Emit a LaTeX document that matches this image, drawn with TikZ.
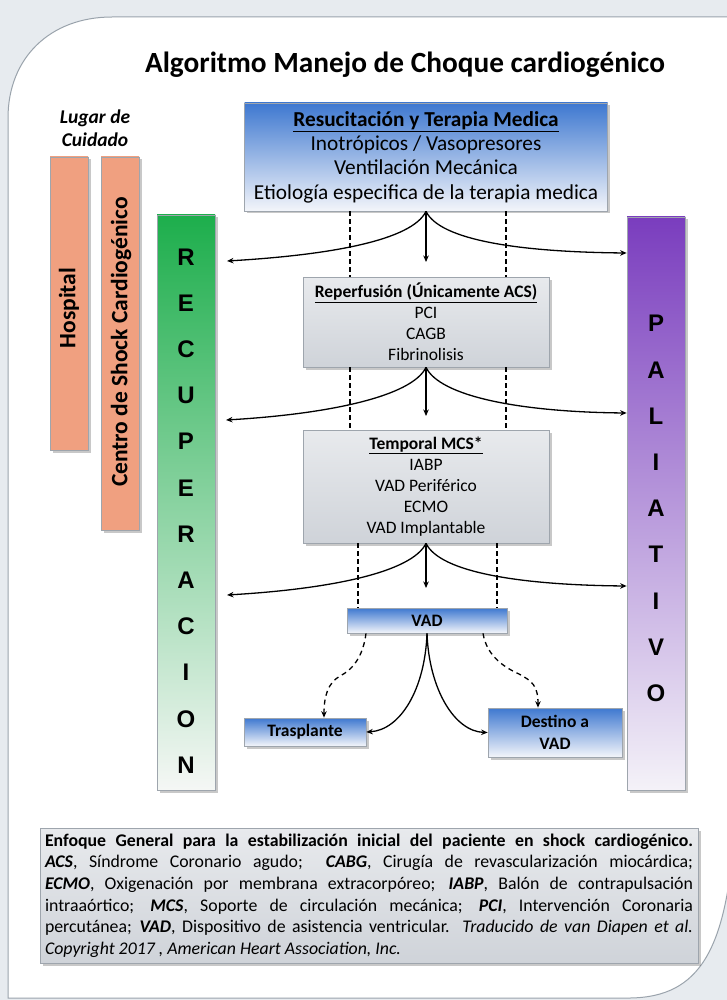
\documentclass[tikz,border=0pt]{standalone}
\usepackage{fontspec}
\setmainfont{Carlito}
\newfontfamily\arialf{Liberation Sans}
\usetikzlibrary{arrows.meta,shadows,calc}
\definecolor{bgc}{HTML}{E7EBEF}
\definecolor{frameC}{HTML}{9AA3AC}
\definecolor{boxline}{HTML}{9EA5AD}
\definecolor{blueT}{HTML}{3E78D0}
\definecolor{blueB}{HTML}{F3F5FA}
\definecolor{grayT}{HTML}{E8EAED}
\definecolor{grayB}{HTML}{CFD3D9}
\definecolor{greenT}{HTML}{1DAE4C}
\definecolor{greenB}{HTML}{F5F7F5}
\definecolor{purpT}{HTML}{7A3DBE}
\definecolor{purpB}{HTML}{F4F2F8}
\definecolor{salmE}{HTML}{F0A080}
\definecolor{salmM}{HTML}{F8BCA2}
\tikzset{
  boxbase/.style={draw=boxline, line width=0.7pt, inner sep=0pt, align=center,
    drop shadow={shadow xshift=2.5pt, shadow yshift=-2.5pt, opacity=0.3, fill=black!70}},
  bluebox/.style={boxbase, top color=blueT, bottom color=blueB},
  graybox/.style={boxbase, top color=grayT, bottom color=grayB},
  greenbar/.style={boxbase, top color=greenT, bottom color=greenB},
  purplebar/.style={boxbase, top color=purpT, bottom color=purpB},
  salmonbar/.style={boxbase, left color=salmE, middle color=salmM, right color=salmE},
  boxtext/.style={font=\fontsize{17.5}{21}\selectfont},
  bartext/.style={font=\arialf\bfseries\fontsize{24}{46.2}\selectfont, align=center, inner sep=0pt},
  sidetext/.style={font=\bfseries\fontsize{23.5}{27}\selectfont, rotate=90, inner sep=0pt},
  arr/.style={line width=1.3pt, -{Stealth[length=6.5pt,width=5.5pt]}},
  dashline/.style={line width=1.1pt, dash pattern=on 4.5pt off 3.5pt},
  dasharr/.style={line width=1.3pt, dash pattern=on 5pt off 4pt, -{Stealth[length=6.5pt,width=5.5pt]}}
}
\begin{document}
\begin{tikzpicture}[x=1pt,y=-1pt]
\useasboundingbox (0,0) rectangle (727,1000);
\fill[bgc] (0,0) rectangle (727,1000);
\path[fill=white, draw=frameC, line width=1pt] (8,998) -- (8,118) .. controls (8,58) and (50,17) .. (112,17) -- (740,17) -- (735,820) .. controls (728,950) and (700,997) .. (630,998) -- cycle;

% title
\node[font=\bfseries\fontsize{29.3}{33}\selectfont, inner sep=0pt] (title) at (405,65) {Algoritmo Manejo de Choque cardiogénico};

% place of care
\node[font=\bfseries\itshape\fontsize{19.5}{23}\selectfont, align=center, inner sep=0pt] (lugar) at (95,128.5) {Lugar de\\Cuidado};
\node[salmonbar, minimum width=38pt, minimum height=293pt] (hosp) at (69,303.5) {};
\node[sidetext] (hosptxt) at (69,308) {Hospital};
\node[salmonbar, minimum width=38pt, minimum height=373pt] (centro) at (120,343.5) {};
\node[sidetext] (centrotxt) at (121,342) {Centro de Shock Cardiogénico};

% side bars
\node[greenbar, minimum width=58pt, minimum height=575pt] (rec) at (186,502.5) {};
\node[bartext] (rectxt) at (186,511) {R\\E\\C\\U\\P\\E\\R\\A\\C\\I\\O\\N};
\node[purplebar, minimum width=58pt, minimum height=573pt] (pal) at (656,503.5) {};
\node[bartext] (paltxt) at (656,508.5) {P\\A\\L\\I\\A\\T\\I\\V\\O};

% main boxes
\node[bluebox, minimum width=363pt, minimum height=108pt, font=\fontsize{21.3}{24.3}\selectfont] (top) at (426,157)
  {\textbf{\underline{Resucitación y Terapia Medica}}\\Inotrópicos / Vasopresores\\Ventilación Mecánica\\Etiología especifica de la terapia medica};
\node[graybox, boxtext, minimum width=246pt, minimum height=90pt] (rep) at (426,322)
  {\textbf{\underline{Reperfusión (Únicamente ACS)}}\\PCI\\CAGB\\Fibrinolisis};
\node[graybox, boxtext, minimum width=246pt, minimum height=113pt] (tmp) at (426,486.5)
  {\textbf{\underline{Temporal MCS*}}\\IABP\\VAD Periférico\\ECMO\\VAD Implantable};
\node[bluebox, boxtext, minimum width=160pt, minimum height=25pt] (vad) at (427,620.5) {\textbf{VAD}};
\node[bluebox, boxtext, minimum width=122pt, minimum height=28pt] (tras) at (305,732) {\textbf{Trasplante}};
\node[bluebox, font=\bfseries\fontsize{17.5}{22}\selectfont, minimum width=134pt, minimum height=49pt] (dest) at (555,732.5) {Destino a\\VAD};

% caption
\node[graybox, minimum width=658pt, minimum height=135pt, font=\fontsize{17.8}{21.6}\selectfont, align=left] (cap) at (369,895.5) {%
\makebox[648pt][s]{\textbf{Enfoque General para la estabilización inicial del paciente en shock cardiogénico.}}\\
\makebox[648pt][s]{\textbf{\textit{ACS}}, Síndrome Coronario agudo;\ \ \textbf{\textit{CABG}}, Cirugía de revascularización miocárdica;}\\
\makebox[648pt][s]{\textbf{\textit{ECMO}}, Oxigenación por membrana extracorpóreo; \textbf{\textit{IABP}}, Balón de contrapulsación}\\
\makebox[648pt][s]{intraaórtico; \textbf{\textit{MCS}}, Soporte de circulación mecánica; \textbf{\textit{PCI}}, Intervención Coronaria}\\
\makebox[648pt][s]{percutánea; \textbf{\textit{VAD}}, Dispositivo de asistencia ventricular. \textit{Traducido de van Diapen et al.}}\\
\makebox[648pt][l]{\textit{Copyright 2017 , American Heart Association, Inc.}}};

% free ends
\coordinate (gL1) at (227,261);
\coordinate (pR1) at (627,253);
\coordinate (d1) at (426,262);
\coordinate (gL2) at (226,420);
\coordinate (pR2) at (627,413);
\coordinate (d2) at (426,416);
\coordinate (gL3) at (227,595);
\coordinate (pR3) at (627,586);
\coordinate (d3) at (426,588);

% level 1
\draw[arr] (top.south) .. controls ($(top.south)+(-14,29)$) and ($(gL1)+(103,-6)$) .. (gL1);
\draw[arr] (top.south) .. controls ($(top.south)+(14,29)$) and ($(pR1 -| pal.west)+(-107,-1)$) .. (pR1 -| pal.west);
\draw[arr] (top.south) -- (d1);
\coordinate (a1) at ($(top.south)+(-76,0)$);
\coordinate (b1) at ($(top.south)+(80,0)$);
\draw[dashline] (a1) -- (a1 |- rep.north);
\draw[dashline] (b1) -- (b1 |- rep.north);

% level 2
\draw[arr] (rep.south) .. controls ($(rep.south)+(-14,29)$) and ($(gL2)+(103,-6)$) .. (gL2);
\draw[arr] (rep.south) .. controls ($(rep.south)+(14,29)$) and ($(pR2 -| pal.west)+(-107,-1)$) .. (pR2 -| pal.west);
\draw[arr] (rep.south) -- (d2);
\coordinate (a2) at ($(rep.south)+(-76,0)$);
\coordinate (b2) at ($(rep.south)+(80,0)$);
\draw[dashline] (a2) -- (a2 |- tmp.north);
\draw[dashline] (b2) -- (b2 |- tmp.north);

% level 3
\draw[arr] (tmp.south) .. controls ($(tmp.south)+(-14,29)$) and ($(gL3)+(103,-6)$) .. (gL3);
\draw[arr] (tmp.south) .. controls ($(tmp.south)+(14,29)$) and ($(pR3 -| pal.west)+(-107,-1)$) .. (pR3 -| pal.west);
\draw[arr] (tmp.south) -- (d3);
\coordinate (a3) at ($(tmp.south)+(-68,0)$);
\coordinate (b3) at ($(tmp.south)+(71,0)$);
\draw[dashline] (a3) -- (a3 |- vad.north);
\draw[dashline] (b3) -- (b3 |- vad.north);

% level 4
\draw[arr] (vad.south) .. controls ($(vad.south)+(-2,56)$) and ($(tras.east)+(34,-2)$) .. (tras.east);
\draw[arr] (vad.south) .. controls ($(vad.south)+(2,56)$) and ($(dest.west)+(-33,-1)$) .. (dest.west);
\coordinate (vl) at ($(vad.south)+(-61,0)$);
\coordinate (vr) at ($(vad.south)+(56,0)$);
\coordinate (tt) at ($(tras.north)+(19,0)$);
\coordinate (dt) at ($(dest.north)+(-17,0)$);
\draw[dasharr] (vl) .. controls ($(vl)+(-3,24)$) and (352,670) .. (340,676) .. controls (328,683) and ($(tt)+(0,-22)$) .. (tt);
\draw[dasharr] (vr) .. controls ($(vr)+(4,24)$) and (506,668) .. (519,674) .. controls (532,681) and ($(dt)+(0,-22)$) .. (dt);
\end{tikzpicture}
\end{document}
